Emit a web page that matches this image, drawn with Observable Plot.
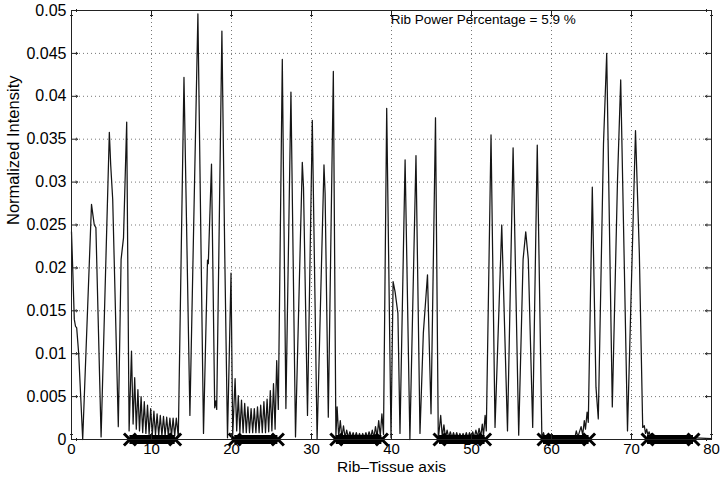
<!DOCTYPE html>
<html>
<head>
<meta charset="utf-8">
<script src="https://cdn.jsdelivr.net/npm/d3@7"></script>
<script src="https://cdn.jsdelivr.net/npm/@observablehq/plot@0.6"></script>
<style>
  html, body { margin: 0; padding: 0; background: #fff; }
  #chart svg { font-family: "Liberation Sans", Arial, Helvetica, sans-serif; }
</style>
</head>
<body>
<div id="chart"></div>
<script>
// Signal samples (Rib-Tissue axis position, normalized intensity)
const sigX = [
  0, 0.15, 0.35, 0.5, 0.65, 0.9, 1.4, 2.5, 2.7, 2.85, 3.05, 3.7, 4.73, 4.9, 5.15, 5.85,
  6.2, 6.5, 6.9, 7.2, 7.5, 7.7, 7.9, 8.1, 8.3, 8.5, 8.7, 8.9, 9.1, 9.3, 9.5, 9.7, 9.9,
  10.1, 10.3, 10.5, 10.7, 10.9, 11.1, 11.3, 11.5, 11.7, 11.9, 12.1, 12.3, 12.5, 12.7, 12.9,
  13.1, 13.35, 14.06, 14.8, 15.8, 16.5, 17.0, 17.1, 17.5, 17.9, 18.05, 18.15, 18.8, 19.15,
  19.5, 19.94, 20.15, 20.45, 20.65, 20.85, 21.05, 21.25, 21.45, 21.65, 21.85, 22.05, 22.25,
  22.45, 22.65, 22.85, 23.05, 23.25, 23.45, 23.65, 23.85, 24.05, 24.25, 24.45, 24.65, 24.85,
  25.05, 25.25, 25.45, 25.65, 25.85, 26.35, 26.8, 27.43, 28.0, 28.85, 29.0, 29.5, 30.1, 30.7,
  31.56, 31.7, 32.1, 32.73, 33.05, 33.2, 33.4, 33.6, 33.8, 34.0, 34.2, 34.4, 34.6, 34.8, 35.0,
  35.2, 35.4, 35.6, 35.8, 36.0, 36.2, 36.4, 36.6, 36.8, 37.0, 37.2, 37.4, 37.6, 37.8, 38.0,
  38.2, 38.4, 38.6, 38.8, 39.0, 39.4, 39.94, 40.2, 40.45, 40.8, 41.06, 41.7, 42.3, 43.06,
  43.56, 43.98, 44.5, 44.94, 45.5, 45.85, 46.15, 46.35, 46.55, 46.75, 46.95, 47.15, 47.35,
  47.55, 47.75, 47.95, 48.15, 48.35, 48.55, 48.75, 48.95, 49.15, 49.35, 49.55, 49.75, 49.95,
  50.15, 50.35, 50.55, 50.75, 50.95, 51.15, 51.35, 51.5, 51.7, 51.85, 52.44, 52.94, 53.78,
  54.5, 55.2, 55.9, 56.45, 56.78, 57.1, 57.65, 58.22, 58.8, 59.0, 59.2, 59.6, 60.0, 60.5,
  61.0, 61.5, 62.0, 62.5, 62.9, 63.1, 63.3, 63.7, 63.9, 64.1, 64.25, 64.45, 64.6, 65.1,
  65.56, 65.85, 66.5, 66.9, 67.6, 68.25, 68.65, 69.5, 70.5, 70.98, 71.4, 71.6, 71.75, 71.9,
  72.05, 72.2, 72.35, 72.5, 72.7, 72.9, 73.1, 73.5, 74.5, 76.0, 78.0, 80.0
];
const sigY = [
  0.0242, 0.0200, 0.0140, 0.0132, 0.0130, 0.0100, 0.0000, 0.0274, 0.0260, 0.0250, 0.0247, 0.0003, 0.0358, 0.0320, 0.0280, 0.0015,
  0.0210, 0.0235, 0.0370, 0.0010, 0.0103, 0.0018, 0.0072, 0.0012, 0.0058, 0.0010, 0.0050, 0.0008, 0.0044, 0.0007, 0.0040, 0.0006, 0.0036,
  0.0005, 0.0033, 0.0005, 0.0030, 0.0004, 0.0028, 0.0004, 0.0027, 0.0004, 0.0026, 0.0004, 0.0025, 0.0004, 0.0025, 0.0004,
  0.0025, 0.0003, 0.0422, 0.0028, 0.0496, 0.0007, 0.0209, 0.0205, 0.0321, 0.0037, 0.0045, 0.0035, 0.0476, 0.0220,
  0.0002, 0.0194, 0.0005, 0.0071, 0.0010, 0.0051, 0.0008, 0.0046, 0.0008, 0.0042, 0.0008, 0.0038, 0.0008,
  0.0036, 0.0008, 0.0036, 0.0008, 0.0038, 0.0008, 0.0040, 0.0008, 0.0044, 0.0008, 0.0047, 0.0009, 0.0057,
  0.0010, 0.0065, 0.0012, 0.0092, 0.0035, 0.0443, 0.0036, 0.0405, 0.0003, 0.0323, 0.0294, 0.0028, 0.0372, 0.0000,
  0.0320, 0.0287, 0.0026, 0.0429, 0.0003, 0.0038, 0.0003, 0.0022, 0.0002, 0.0016, 0.0002, 0.0011, 0.0002, 0.0009, 0.0002,
  0.0008, 0.0002, 0.0008, 0.0002, 0.0007, 0.0002, 0.0007, 0.0002, 0.0008, 0.0002, 0.0009, 0.0002, 0.0011, 0.0002, 0.0015,
  0.0003, 0.0022, 0.0004, 0.0030, 0.0006, 0.0386, 0.0002, 0.0184, 0.0172, 0.0147, 0.0007, 0.0326, 0.0000, 0.0331,
  0.0007, 0.0124, 0.0192, 0.0030, 0.0375, 0.0000, 0.0028, 0.0003, 0.0017, 0.0002, 0.0011, 0.0002, 0.0009,
  0.0002, 0.0008, 0.0002, 0.0008, 0.0002, 0.0007, 0.0002, 0.0007, 0.0002, 0.0008, 0.0002, 0.0008, 0.0002,
  0.0009, 0.0002, 0.0011, 0.0003, 0.0013, 0.0003, 0.0018, 0.0004, 0.0028, 0.0010, 0.0355, 0.0014, 0.0250,
  0.0010, 0.0340, 0.0005, 0.0210, 0.0242, 0.0210, 0.0014, 0.0343, 0.0000, 0.0008, 0.0001, 0.0003, 0.0001, 0.0002,
  0.0001, 0.0002, 0.0001, 0.0002, 0.0001, 0.0010, 0.0003, 0.0015, 0.0005, 0.0022, 0.0012, 0.0032, 0.0020, 0.0294,
  0.0061, 0.0024, 0.0345, 0.0450, 0.0038, 0.0302, 0.0419, 0.0010, 0.0360, 0.0217, 0.0014, 0.0016, 0.0007, 0.0012,
  0.0005, 0.0009, 0.0004, 0.0007, 0.0003, 0.0005, 0.0002, 0.0003, 0.0002, 0.0002, 0.0002, 0.0001
];

// Rib regions marked along the axis
const ribStart = [6.7, 19.8, 32.5, 45.4, 58.4, 71.4];
const ribEnd   = [13.56, 26.4, 39.4, 52.3, 65.3, 78.35];

// Ticks and texts
const xTicks = [0, 10, 20, 30, 40, 50, 60, 70, 80];
const yTicks = [0, 0.005, 0.01, 0.015, 0.02, 0.025, 0.03, 0.035, 0.04, 0.045, 0.05];
const xLabel = "Rib\u2013Tissue axis";
const yLabel = "Normalized Intensity";
const annotation = "Rib Power Percentage = 5.9 %";

const signal = sigX.map((x, i) => ({x, y: sigY[i]}));
const ribs = ribStart.map((s, i) => ({x1: s, x2: ribEnd[i]}));
const ribEnds = ribs.flatMap(r => [{x: r.x1 + 0.6}, {x: r.x2 - 0.6}]);
const fmt = d => String(+d.toFixed(4));
const tickStyle = {stroke: "#222", strokeWidth: 1, length: 6, anchor: "start"};

const chart = Plot.plot({
  width: 725,
  height: 479,
  marginLeft: 71,
  marginRight: 14,
  marginTop: 10,
  marginBottom: 40,
  style: {fontFamily: "Liberation Sans, Arial, Helvetica, sans-serif", background: "#fff", color: "#000"},
  x: {domain: [0, 80]},
  y: {domain: [0, 0.05]},
  marks: [
    Plot.gridX(xTicks, {stroke: "#555", strokeOpacity: 1, strokeWidth: 0.8, strokeDasharray: "1,3"}),
    Plot.gridY(yTicks, {stroke: "#555", strokeOpacity: 1, strokeWidth: 0.8, strokeDasharray: "1,3"}),
    Plot.line(signal, {x: "x", y: "y", stroke: "#151515", strokeWidth: 1.25}),
    Plot.ruleY(ribs.map(r => ({x1: r.x1 + 0.6, x2: r.x2 - 0.6})), {x1: "x1", x2: "x2", y: 0, stroke: "#000", strokeWidth: 9}),
    Plot.dot(ribEnds, {x: "x", y: 0, symbol: "times", r: 5.5, stroke: "#000", strokeWidth: 3}),
    Plot.frame({stroke: "#222"}),
    // inward tick marks on all four sides
    Plot.vector(xTicks, {x: d => d, frameAnchor: "bottom", rotate: 0, ...tickStyle}),
    Plot.vector(xTicks, {x: d => d, frameAnchor: "top", rotate: 180, ...tickStyle}),
    Plot.vector(yTicks, {y: d => d, frameAnchor: "left", rotate: 90, ...tickStyle}),
    Plot.vector(yTicks, {y: d => d, frameAnchor: "right", rotate: -90, ...tickStyle}),
    Plot.axisX(xTicks, {anchor: "bottom", tickSize: 0, tickPadding: 4, fontSize: 15, label: null, tickFormat: fmt}),
    Plot.axisY(yTicks, {anchor: "left", tickSize: 0, tickPadding: 5, fontSize: 16, label: null, tickFormat: fmt}),
    Plot.text([xLabel], {text: d => d, frameAnchor: "bottom", dy: 32, fontSize: 15.5, fill: "#000"}),
    Plot.text([yLabel], {text: d => d, frameAnchor: "left", dx: -58, rotate: -90, fontSize: 16.5, fill: "#000"}),
    Plot.text([annotation], {text: d => d, x: 39.9, y: 0.0489, textAnchor: "start", fontSize: 13.5, fill: "#000"})
  ]
});
document.getElementById("chart").appendChild(chart);
</script>
</body>
</html>
